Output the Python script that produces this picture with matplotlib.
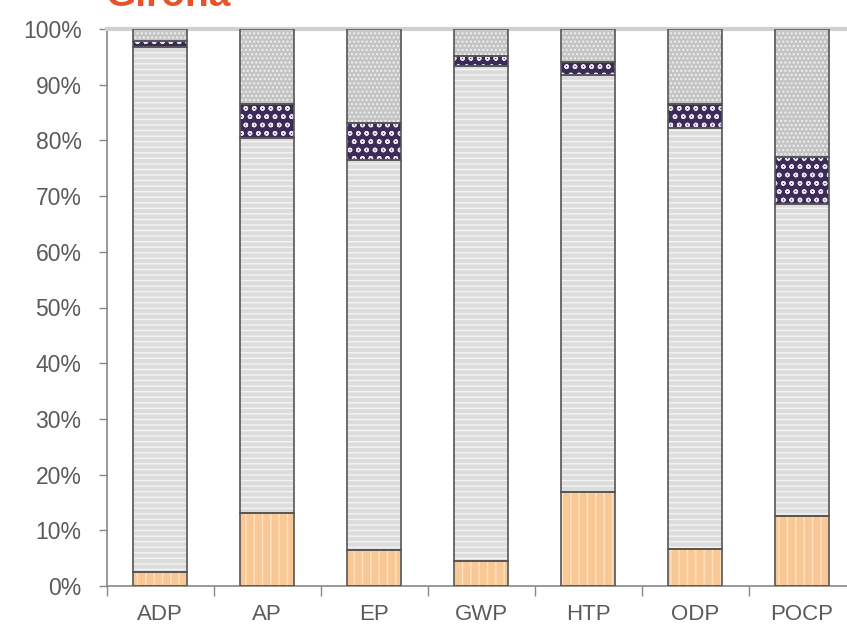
import numpy as np
import matplotlib
matplotlib.use("Agg")
from matplotlib import pyplot as plt

categories = ["ADP", "AP", "EP", "GWP", "HTP", "ODP", "POCP"]
# shares in percent, bottom to top
orange_part = [2.5, 13.1, 6.5, 4.5, 16.9, 6.6, 12.6]
grey_part = [94.3, 67.3, 70.0, 88.9, 74.8, 75.6, 56.0]
purple_part = [1.0, 6.1, 6.6, 1.8, 2.4, 4.3, 8.4]
top_part = [100 - a - b - c for a, b, c in zip(orange_part, grey_part, purple_part)]

series = [orange_part, grey_part, purple_part, top_part]
fills = ["#f9c894", "#dcdcdc", "#3d2b57", "#c4c4c4"]
hatches = ["||", "---", "oo", "...."]
hatch_cols = ["#fde3c4", "#f4f4f4", "#e8e4ee", "#f0f0f0"]

plt.rcParams["font.family"] = ["Liberation Sans", "DejaVu Sans"]

fig = plt.figure(figsize=(8.47, 6.3), dpi=100)
ax = fig.add_axes([106.5 / 847, 44 / 630, 749 / 847, 557 / 630])

x = np.arange(len(categories))
width = 0.5
bottom = np.zeros(len(categories))
for vals, fc, h, hc in zip(series, fills, hatches, hatch_cols):
	vals = np.array(vals)
	ax.bar(x, vals, width, bottom=bottom, color=fc, hatch=h, edgecolor=hc, linewidth=0, zorder=2)
	ax.bar(x, vals, width, bottom=bottom, fill=False, edgecolor="#555555", linewidth=1.2, zorder=3)
	bottom += vals

ax.set_xlim(-0.5, len(categories) - 0.5)
ax.set_ylim(0, 100)
ax.set_yticks(np.arange(0, 101, 10))
ax.set_yticklabels(["%d%%" % v for v in range(0, 101, 10)], fontsize=16.5, color="#5a5a5a")
ax.set_xticks(x)
ax.set_xticklabels(categories, fontsize=16, color="#5a5a5a")
ax.set_xticks(np.arange(-0.5, len(categories), 1), minor=True)
ax.tick_params(axis="x", which="major", length=0, pad=13)
ax.tick_params(axis="x", which="minor", length=7, color="#888888", width=1)
ax.tick_params(axis="y", length=6, color="#888888", width=1, pad=12)

ax.spines["right"].set_visible(False)
ax.spines["top"].set_color("#d0d0d0")
ax.spines["top"].set_linewidth(3)
ax.spines["left"].set_color("#888888")
ax.spines["bottom"].set_color("#888888")
ax.spines["left"].set_linewidth(1.2)
ax.spines["bottom"].set_linewidth(1.2)

fig.text(105 / 847, 1 - 6 / 630, "Girona", color="#e8542a", fontsize=28, fontweight="bold",
	ha="left", va="baseline")

fig.savefig("out.png", dpi=100)
